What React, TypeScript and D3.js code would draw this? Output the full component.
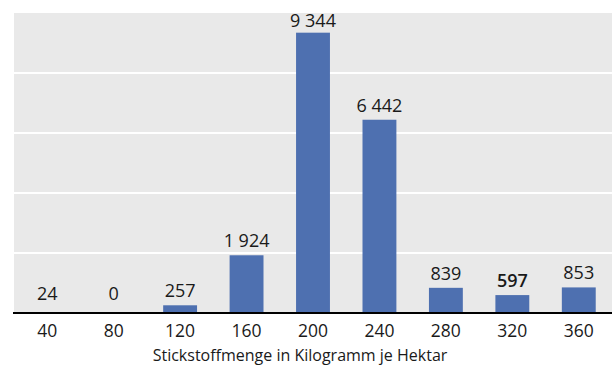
import React from "react";
import * as d3 from "d3";

const categories = ["40", "80", "120", "160", "200", "240", "280", "320", "360"];
const values = [24, 0, 257, 1924, 9344, 6442, 839, 597, 853];
const gridTicks = [2000, 4000, 6000, 8000];
const xTitle = "Stickstoffmenge in Kilogramm je Hektar";

const W = 612;
const H = 365;
const left = 14;
const right = 612;
const top = 13;
const bottom = 313;

const fmt = (v: number) => d3.format(",")(v).replace(/,/g, " ");

export default function App() {
  const x = d3.scaleBand<string>().domain(categories).range([left, right]).paddingInner(0.49).paddingOuter(0.245);
  const y = d3.scaleLinear().domain([0, 10000]).range([bottom, top]);
  const font = "'Open Sans', sans-serif";
  return (
    <svg width={W} height={H} style={{ position: "absolute", left: 0, top: 0 }}>
      <rect x={left} y={top} width={right - left} height={bottom - top} fill="#e9e9e9" />
      {gridTicks.map((t) => (
        <line key={t} x1={left} x2={right} y1={y(t)} y2={y(t)} stroke="#ffffff" strokeWidth={2} />
      ))}
      {values.map((v, i) => (
        <rect key={i} x={x(categories[i])!} width={x.bandwidth()} y={y(v)} height={bottom - y(v)} fill="#4e70b0" />
      ))}
      {values.map((v, i) => {
        const ly = Math.max(27, Math.min(300, y(v) - 8));
        return (
          <text key={i} x={x(categories[i])! + x.bandwidth() / 2} y={ly} textAnchor="middle"
            fontFamily={font} fontSize={18} fill="#1a1a1a" fontWeight={i === 7 ? 600 : 400}
            style={{ whiteSpace: "pre" }}>
            {fmt(v)}
          </text>
        );
      })}
      <line x1={13} x2={right} y1={bottom} y2={bottom} stroke="#000" strokeWidth={2} />
      {categories.map((c) => (
        <text key={c} x={x(c)! + x.bandwidth() / 2} y={337} textAnchor="middle" fontFamily={font} fontSize={17.5} fill="#1a1a1a">
          {c}
        </text>
      ))}
      <text x={300} y={361} textAnchor="middle" fontFamily={font} fontSize={16} fill="#1a1a1a">
        {xTitle}
      </text>
    </svg>
  );
}
